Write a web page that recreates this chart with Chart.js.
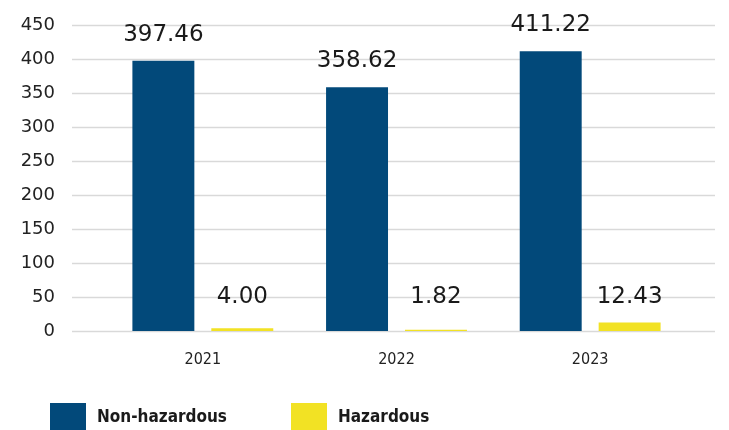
<!DOCTYPE html>
<html>
<head>
<meta charset="utf-8">
<script src="https://cdn.jsdelivr.net/npm/chart.js@4/dist/chart.umd.min.js"></script>
<style>
  html, body { margin: 0; padding: 0; background: #fff; }
  #wrap { width: 729px; height: 430px; position: relative; }
</style>
</head>
<body>
<div id="wrap"><canvas id="wasteChart" width="729" height="430"></canvas></div>
<script>
const years = ['2021', '2022', '2023'];
const nonHazardous = [397.46, 358.62, 411.22];
const hazardous = [4.00, 1.82, 12.43];
const yTicks = [0, 50, 100, 150, 200, 250, 300, 350, 400, 450];

const navy = '#02497a';
const yellow = '#f2e224';

// horizontal grid lines run a bit wider than the bar area
const gridLines = {
  id: 'gridLines',
  beforeDatasetsDraw(chart) {
    const ctx = chart.ctx;
    const y = chart.scales.y;
    ctx.save();
    ctx.strokeStyle = '#d9d9d9';
    ctx.lineWidth = 1.5;
    yTicks.forEach(v => {
      const py = Math.round(y.getPixelForValue(v)) + 0.5;
      ctx.beginPath();
      ctx.moveTo(72, py);
      ctx.lineTo(715, py);
      ctx.stroke();
    });
    ctx.restore();
  }
};

// value labels above each bar
const valueLabels = {
  id: 'valueLabels',
  afterDatasetsDraw(chart) {
    const ctx = chart.ctx;
    const base = chart.scales.y.getPixelForValue(0);
    ctx.save();
    ctx.font = '23px "DejaVu Sans"';
    ctx.fillStyle = '#1a1a1a';
    ctx.textAlign = 'center';
    ctx.textBaseline = 'middle';
    chart.data.datasets.forEach((ds, i) => {
      chart.getDatasetMeta(i).data.forEach((bar, j) => {
        const top = Math.min(bar.y, base - 8);
        ctx.fillText(ds.data[j].toFixed(2), bar.x, top - 26);
      });
    });
    ctx.restore();
  }
};

// legend row along the bottom edge
const legendRow = {
  id: 'legendRow',
  afterDraw(chart) {
    const ctx = chart.ctx;
    const items = [
      { label: 'Non-hazardous', color: navy, x: 50 },
      { label: 'Hazardous', color: yellow, x: 291 }
    ];
    ctx.save();
    ctx.font = 'bold 17px "DejaVu Sans Condensed", "DejaVu Sans"';
    ctx.textBaseline = 'middle';
    items.forEach(it => {
      ctx.fillStyle = it.color;
      ctx.fillRect(it.x, 403, 36, 30);
      ctx.fillStyle = '#1a1a1a';
      ctx.fillText(it.label, it.x + 47, 418);
    });
    ctx.restore();
  }
};

new Chart(document.getElementById('wasteChart'), {
  type: 'bar',
  data: {
    labels: years,
    datasets: [
      { label: 'Non-hazardous', data: nonHazardous, backgroundColor: navy,
        categoryPercentage: 0.815, barPercentage: 0.785 },
      { label: 'Hazardous', data: hazardous, backgroundColor: yellow,
        categoryPercentage: 0.815, barPercentage: 0.785 }
    ]
  },
  options: {
    responsive: false,
    animation: false,
    layout: { padding: { top: 25, right: 42, left: 0, bottom: 0 } },
    plugins: {
      legend: { display: false },
      tooltip: { enabled: false }
    },
    scales: {
      x: {
        grid: { display: false, drawTicks: true, tickLength: 19 },
        border: { display: false },
        ticks: {
          padding: 0,
          color: '#222',
          font: { family: '"DejaVu Sans Condensed", "DejaVu Sans"', size: 16 }
        },
        afterFit(scale) { scale.height = 99; }
      },
      y: {
        min: 0,
        max: 450,
        grid: { display: false, drawTicks: true, tickLength: 51 },
        border: { display: false },
        ticks: {
          stepSize: 50,
          padding: 0,
          color: '#222',
          font: { family: '"DejaVu Sans"', size: 18 }
        },
        afterFit(scale) { scale.width = 106; }
      }
    }
  },
  plugins: [gridLines, valueLabels, legendRow]
});
</script>
</body>
</html>
